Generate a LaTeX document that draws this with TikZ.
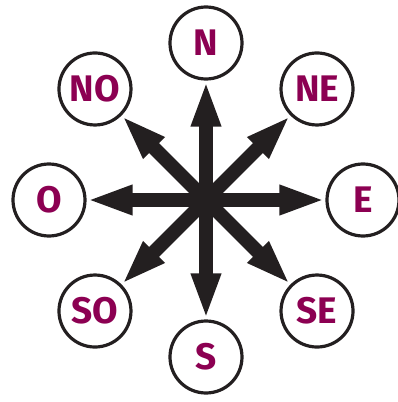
\documentclass[tikz,border=0pt]{standalone}
\usepackage{fontspec}
\setsansfont{Fira Sans}
\usepackage{tikz}
\usetikzlibrary{arrows.meta}
\definecolor{wc}{HTML}{8C0052}
\definecolor{ac}{HTML}{231F20}

\begin{document}
\begin{tikzpicture}[
    x=1pt, y=1pt,
    wind/.style={draw=ac, circle, line width=3.2pt, minimum size=72pt, inner sep=0pt,
                 fill=white, text=wc, font=\fontsize{37}{37}\selectfont\sffamily\bfseries},
    ar/.style={-{Triangle[length=46pt, width=27pt]}, line width=14pt, draw=ac}
]
\useasboundingbox (-206,-202) rectangle (192,200);
\coordinate (c) at (0,0);

\node[wind] (n)  at (90:157)  {N};
\node[wind] (ne) at (45:157)  {NE};
\node[wind] (e)  at (0:157)   {E};
\node[wind] (se) at (-45:157) {SE};
\node[wind] (s)  at (-90:157) {S};
\node[wind] (so) at (-135:157){SO};
\node[wind] (o)  at (180:157) {O};
\node[wind] (no) at (135:157) {NO};

\draw[ar] (c) -- (n);
\draw[ar] (c) -- (ne);
\draw[ar] (c) -- (e);
\draw[ar] (c) -- (se);
\draw[ar] (c) -- (s);
\draw[ar] (c) -- (so);
\draw[ar] (c) -- (o);
\draw[ar] (c) -- (no);
\end{tikzpicture}
\end{document}
